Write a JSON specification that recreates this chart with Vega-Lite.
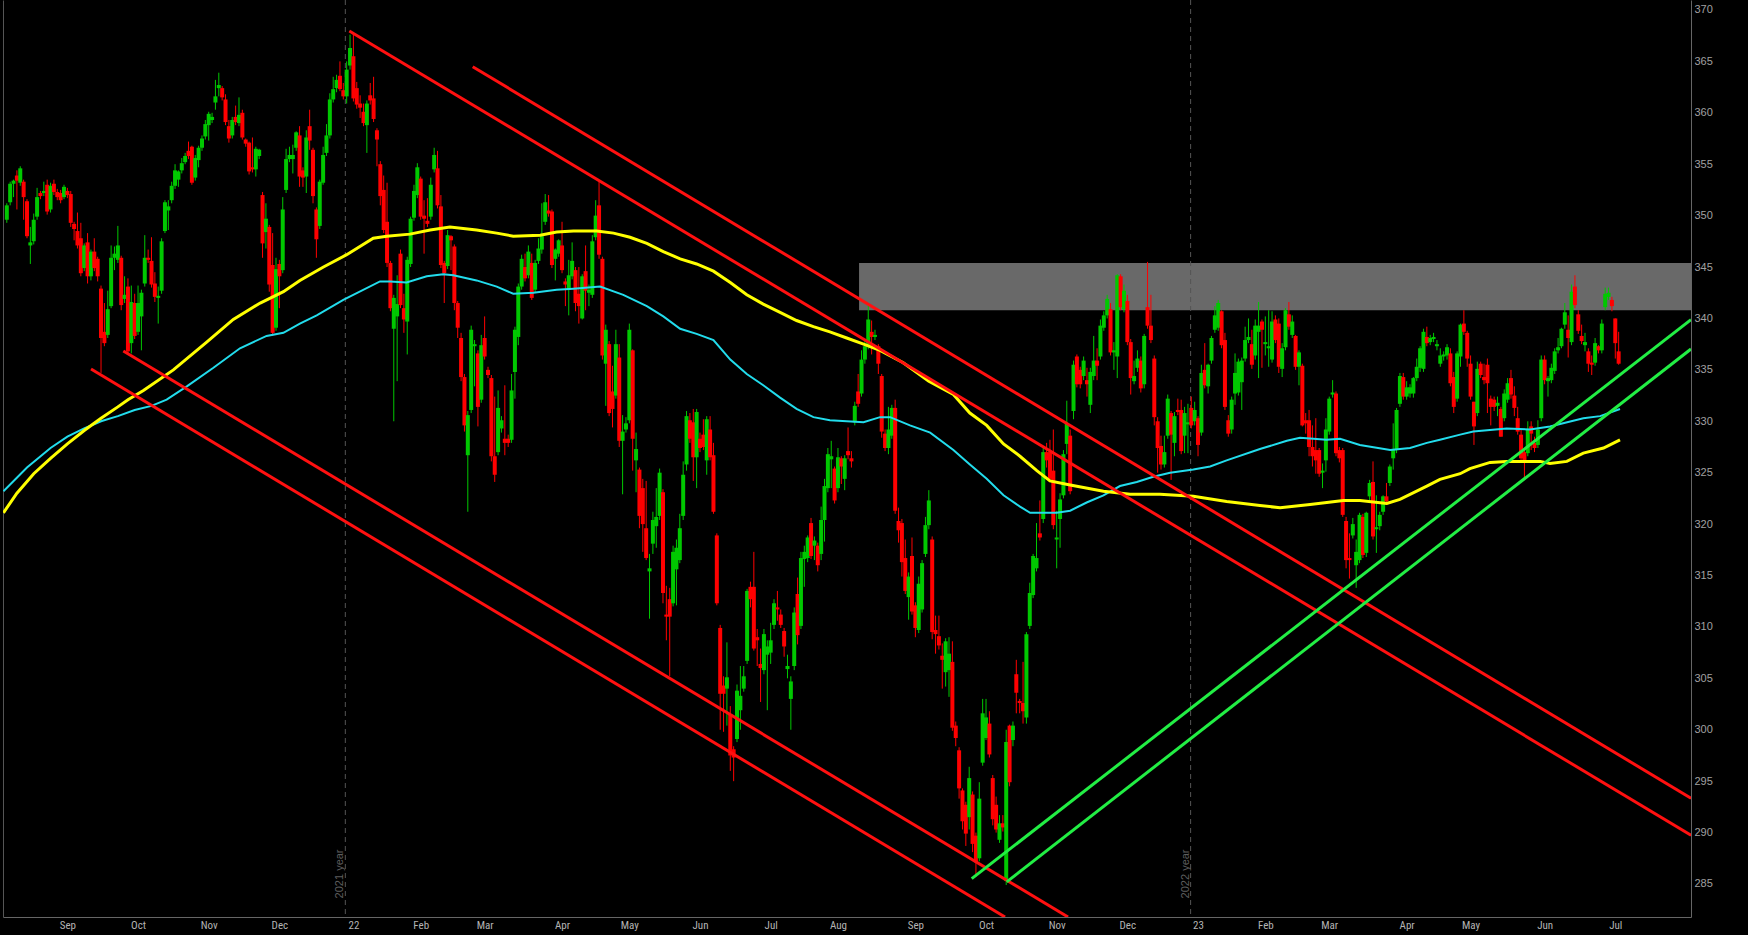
{
"$schema": "https://vega.github.io/schema/vega-lite/v6.json",
"width": 1688, "height": 917,
"autosize": {"type": "none"},
"padding": {"left": 3, "top": 0, "right": 57, "bottom": 18},
"background": "#000000",
"config": {"view": {"stroke": null}, "axis": {"grid": false}, "scale": {"continuousPadding": 0}},
"datasets": {
"candles": [
{"i":-18,"o":349.6,"h":351.2,"l":349.3,"c":351.0},{"i":-17,"o":351.3,"h":353.3,"l":351.0,"c":353.1},{"i":-16,"o":353.1,"h":353.5,"l":351.8,"c":353.4},{"i":-15,"o":353.9,"h":354.4,"l":350.6,"c":353.4},{"i":-14,"o":353.2,"h":354.8,"l":352.9,"c":354.6},{"i":-13,"o":353.3,"h":353.5,"l":349.6,"c":351.8},{"i":-12,"o":351.4,"h":351.6,"l":347.8,"c":348.0},{"i":-11,"o":347.1,"h":348.9,"l":345.3,"c":347.4},{"i":-10,"o":347.5,"h":350.2,"l":347.2,"c":349.6},{"i":-9,"o":349.9,"h":352.7,"l":349.6,"c":351.8},
{"i":-8,"o":352.2,"h":352.4,"l":351.6,"c":351.9},{"i":-7,"o":352.2,"h":353.3,"l":351.9,"c":352.4},{"i":-6,"o":353.0,"h":353.5,"l":350.1,"c":350.4},{"i":-5,"o":350.6,"h":353.2,"l":350.3,"c":352.9},{"i":-4,"o":353.1,"h":353.5,"l":352.0,"c":352.3},{"i":-3,"o":352.3,"h":352.6,"l":351.5,"c":351.8},{"i":-2,"o":352.2,"h":352.5,"l":351.2,"c":351.5},{"i":-1,"o":351.8,"h":353.0,"l":351.6,"c":352.8},{"i":0,"o":352.4,"h":352.7,"l":351.7,"c":352.0},{"i":1,"o":352.1,"h":352.4,"l":348.9,"c":349.3},
{"i":2,"o":349.2,"h":349.4,"l":347.6,"c":348.7},{"i":3,"o":348.5,"h":350.3,"l":346.8,"c":347.1},{"i":4,"o":347.8,"h":349.3,"l":344.1,"c":344.4},{"i":5,"o":344.9,"h":347.3,"l":344.6,"c":347.1},{"i":6,"o":347.4,"h":348.3,"l":343.4,"c":344.1},{"i":7,"o":344.1,"h":346.7,"l":343.7,"c":346.5},{"i":8,"o":346.5,"h":347.8,"l":344.6,"c":344.9},{"i":9,"o":345.8,"h":346.0,"l":343.6,"c":344.1},{"i":10,"o":342.9,"h":343.2,"l":334.7,"c":338.1},{"i":11,"o":338.7,"h":341.5,"l":337.3,"c":337.6},
{"i":12,"o":338.4,"h":342.7,"l":338.1,"c":340.9},{"i":13,"o":341.2,"h":347.1,"l":341.0,"c":345.9},{"i":14,"o":345.9,"h":347.0,"l":344.7,"c":346.3},{"i":15,"o":345.7,"h":349.0,"l":345.4,"c":347.1},{"i":16,"o":345.9,"h":346.1,"l":340.8,"c":341.3},{"i":17,"o":341.9,"h":344.1,"l":341.5,"c":342.3},{"i":18,"o":343.1,"h":343.9,"l":336.5,"c":336.8},{"i":19,"o":337.6,"h":343.2,"l":336.6,"c":341.6},{"i":20,"o":341.5,"h":342.4,"l":338.0,"c":338.3},{"i":21,"o":338.7,"h":343.2,"l":338.4,"c":341.5},
{"i":22,"o":340.2,"h":342.8,"l":336.9,"c":342.5},{"i":23,"o":343.4,"h":348.1,"l":343.1,"c":345.9},{"i":24,"o":345.9,"h":346.7,"l":345.4,"c":345.7},{"i":25,"o":345.6,"h":347.9,"l":343.0,"c":343.3},{"i":26,"o":343.4,"h":344.5,"l":341.6,"c":342.1},{"i":27,"o":342.0,"h":343.1,"l":339.5,"c":342.2},{"i":28,"o":342.7,"h":347.8,"l":342.4,"c":347.5},{"i":29,"o":348.5,"h":351.5,"l":348.3,"c":351.3},{"i":30,"o":350.5,"h":351.5,"l":348.6,"c":350.9},{"i":31,"o":351.5,"h":353.3,"l":351.2,"c":352.9},
{"i":32,"o":352.9,"h":355.0,"l":352.6,"c":354.4},{"i":33,"o":353.5,"h":354.4,"l":352.8,"c":354.3},{"i":34,"o":354.4,"h":355.6,"l":354.1,"c":355.1},{"i":35,"o":355.2,"h":356.1,"l":355.0,"c":355.8},{"i":36,"o":356.3,"h":357.2,"l":355.5,"c":355.8},{"i":37,"o":356.7,"h":356.8,"l":353.0,"c":353.2},{"i":38,"o":353.7,"h":355.9,"l":353.4,"c":355.6},{"i":39,"o":355.4,"h":356.8,"l":354.7,"c":356.6},{"i":40,"o":356.6,"h":357.8,"l":356.3,"c":357.5},{"i":41,"o":357.7,"h":359.3,"l":357.4,"c":358.9},
{"i":42,"o":358.8,"h":360.1,"l":357.3,"c":359.9},{"i":43,"o":359.3,"h":360.0,"l":359.0,"c":359.6},{"i":44,"o":361.0,"h":363.2,"l":360.3,"c":361.6},{"i":45,"o":362.4,"h":363.9,"l":361.6,"c":362.7},{"i":46,"o":362.4,"h":362.6,"l":361.2,"c":361.5},{"i":47,"o":361.3,"h":361.8,"l":358.8,"c":359.1},{"i":48,"o":358.7,"h":359.3,"l":357.1,"c":357.5},{"i":49,"o":357.8,"h":359.6,"l":357.5,"c":359.3},{"i":50,"o":359.6,"h":360.7,"l":358.8,"c":359.1},{"i":51,"o":359.0,"h":361.5,"l":358.7,"c":359.8},
{"i":52,"o":360.0,"h":360.3,"l":357.4,"c":357.6},{"i":53,"o":357.4,"h":357.5,"l":356.7,"c":357.0},{"i":54,"o":357.1,"h":357.2,"l":354.0,"c":354.3},{"i":55,"o":354.7,"h":357.6,"l":354.2,"c":354.5},{"i":56,"o":354.5,"h":356.7,"l":353.8,"c":356.5},{"i":57,"o":355.8,"h":356.5,"l":355.5,"c":356.4},{"i":58,"o":352.0,"h":352.3,"l":345.9,"c":347.3},{"i":59,"o":348.4,"h":351.2,"l":346.8,"c":349.7},{"i":60,"o":348.9,"h":349.1,"l":342.6,"c":343.3},{"i":61,"o":345.2,"h":348.3,"l":338.3,"c":338.6},
{"i":62,"o":339.1,"h":345.9,"l":338.8,"c":344.8},{"i":63,"o":345.3,"h":345.7,"l":341.0,"c":344.1},{"i":64,"o":344.7,"h":351.8,"l":344.4,"c":350.6},{"i":65,"o":352.5,"h":356.5,"l":352.2,"c":355.5},{"i":66,"o":355.5,"h":356.7,"l":355.2,"c":355.9},{"i":67,"o":355.5,"h":356.9,"l":354.1,"c":355.9},{"i":68,"o":356.6,"h":358.2,"l":356.3,"c":358.1},{"i":69,"o":357.8,"h":358.7,"l":352.8,"c":353.8},{"i":70,"o":354.4,"h":354.7,"l":352.8,"c":353.7},{"i":71,"o":353.8,"h":358.3,"l":352.2,"c":357.6},
{"i":72,"o":358.7,"h":360.3,"l":356.4,"c":357.3},{"i":73,"o":356.4,"h":356.6,"l":351.2,"c":351.9},{"i":74,"o":350.6,"h":350.8,"l":345.9,"c":347.7},{"i":75,"o":349.0,"h":353.5,"l":348.7,"c":353.3},{"i":76,"o":353.2,"h":356.7,"l":353.0,"c":355.9},{"i":77,"o":356.1,"h":358.9,"l":355.8,"c":357.8},{"i":78,"o":357.8,"h":361.9,"l":357.5,"c":361.3},{"i":79,"o":361.3,"h":363.5,"l":361.0,"c":362.3},{"i":80,"o":362.4,"h":363.7,"l":362.0,"c":363.2},{"i":81,"o":363.6,"h":365.0,"l":362.1,"c":362.3},
{"i":82,"o":362.2,"h":362.9,"l":361.3,"c":361.6},{"i":83,"o":361.6,"h":365.0,"l":360.9,"c":364.2},{"i":84,"o":364.6,"h":367.6,"l":364.2,"c":366.3},{"i":85,"o":365.5,"h":367.7,"l":361.1,"c":361.4},{"i":86,"o":362.4,"h":363.0,"l":360.4,"c":360.8},{"i":87,"o":360.9,"h":361.7,"l":359.5,"c":360.5},{"i":88,"o":360.1,"h":360.9,"l":358.7,"c":359.0},{"i":89,"o":358.8,"h":361.2,"l":356.1,"c":360.9},{"i":90,"o":361.7,"h":362.9,"l":360.8,"c":361.2},{"i":91,"o":361.4,"h":363.5,"l":359.1,"c":359.4},
{"i":92,"o":358.3,"h":358.5,"l":354.8,"c":357.4},{"i":93,"o":355.0,"h":355.3,"l":351.0,"c":351.9},{"i":94,"o":352.5,"h":353.9,"l":348.3,"c":348.6},{"i":95,"o":349.4,"h":353.2,"l":345.0,"c":345.4},{"i":96,"o":345.4,"h":345.6,"l":340.7,"c":341.0},{"i":97,"o":339.0,"h":342.3,"l":330.0,"c":342.0},{"i":98,"o":340.2,"h":344.2,"l":333.9,"c":341.4},{"i":99,"o":346.3,"h":346.7,"l":341.0,"c":341.3},{"i":100,"o":341.0,"h":342.4,"l":338.6,"c":339.9},{"i":101,"o":339.7,"h":346.0,"l":336.5,"c":345.7},
{"i":102,"o":345.3,"h":349.9,"l":345.0,"c":349.7},{"i":103,"o":349.8,"h":353.0,"l":349.5,"c":352.4},{"i":104,"o":352.0,"h":355.1,"l":351.7,"c":354.7},{"i":105,"o":353.6,"h":353.8,"l":349.6,"c":349.9},{"i":106,"o":350.0,"h":351.5,"l":346.3,"c":349.7},{"i":107,"o":349.5,"h":351.7,"l":348.9,"c":349.2},{"i":108,"o":349.9,"h":353.7,"l":349.6,"c":353.0},{"i":109,"o":354.5,"h":356.6,"l":354.2,"c":355.9},{"i":110,"o":354.6,"h":356.3,"l":350.7,"c":351.0},{"i":111,"o":350.9,"h":352.0,"l":344.9,"c":345.2},
{"i":112,"o":345.4,"h":345.6,"l":341.5,"c":344.4},{"i":113,"o":345.1,"h":348.6,"l":344.8,"c":348.1},{"i":114,"o":348.0,"h":348.1,"l":344.7,"c":347.6},{"i":115,"o":347.0,"h":347.2,"l":340.8,"c":341.5},{"i":116,"o":341.5,"h":341.7,"l":338.1,"c":339.1},{"i":117,"o":338.1,"h":338.6,"l":333.9,"c":334.3},{"i":118,"o":334.3,"h":334.6,"l":329.0,"c":329.6},{"i":119,"o":326.7,"h":331.0,"l":321.2,"c":330.6},{"i":120,"o":331.1,"h":339.3,"l":330.8,"c":338.9},{"i":121,"o":337.3,"h":337.9,"l":333.4,"c":337.5},
{"i":122,"o":336.6,"h":336.9,"l":329.5,"c":331.4},{"i":123,"o":332.1,"h":338.4,"l":331.8,"c":337.4},{"i":124,"o":338.1,"h":340.2,"l":336.0,"c":336.3},{"i":125,"o":335.0,"h":335.3,"l":334.2,"c":334.5},{"i":126,"o":334.2,"h":334.5,"l":326.1,"c":326.6},{"i":127,"o":326.6,"h":332.4,"l":324.1,"c":324.8},{"i":128,"o":327.0,"h":333.0,"l":326.7,"c":331.3},{"i":129,"o":329.3,"h":330.5,"l":328.9,"c":330.1},{"i":130,"o":328.3,"h":333.5,"l":326.7,"c":327.9},{"i":131,"o":328.3,"h":328.7,"l":327.5,"c":327.9},
{"i":132,"o":328.2,"h":334.6,"l":327.9,"c":333.0},{"i":133,"o":334.8,"h":339.2,"l":332.2,"c":338.9},{"i":134,"o":338.2,"h":343.4,"l":337.4,"c":343.1},{"i":135,"o":343.1,"h":346.2,"l":342.8,"c":345.8},{"i":136,"o":345.0,"h":346.3,"l":343.6,"c":343.9},{"i":137,"o":344.2,"h":347.1,"l":343.9,"c":346.5},{"i":138,"o":345.4,"h":346.3,"l":341.8,"c":342.0},{"i":139,"o":342.8,"h":345.7,"l":342.5,"c":345.4},{"i":140,"o":345.6,"h":347.8,"l":345.3,"c":346.8},{"i":141,"o":346.7,"h":351.2,"l":346.3,"c":348.0},
{"i":142,"o":349.4,"h":352.1,"l":349.1,"c":351.3},{"i":143,"o":350.5,"h":352.0,"l":349.9,"c":350.2},{"i":144,"o":350.4,"h":350.6,"l":344.9,"c":345.2},{"i":145,"o":345.8,"h":346.8,"l":343.7,"c":346.7},{"i":146,"o":346.3,"h":347.7,"l":346.0,"c":347.6},{"i":147,"o":347.1,"h":349.4,"l":344.4,"c":344.7},{"i":148,"o":343.6,"h":343.9,"l":341.2,"c":343.3},{"i":149,"o":342.8,"h":345.7,"l":340.3,"c":344.2},{"i":150,"o":344.1,"h":347.4,"l":343.8,"c":345.6},{"i":151,"o":344.7,"h":345.0,"l":340.7,"c":341.5},
{"i":152,"o":342.4,"h":345.0,"l":339.5,"c":341.2},{"i":153,"o":340.0,"h":344.3,"l":339.9,"c":344.1},{"i":154,"o":344.6,"h":347.1,"l":340.8,"c":342.7},{"i":155,"o":342.5,"h":343.3,"l":341.2,"c":342.8},{"i":156,"o":342.3,"h":348.1,"l":342.0,"c":347.5},{"i":157,"o":347.9,"h":351.5,"l":347.6,"c":350.0},{"i":158,"o":351.0,"h":353.3,"l":345.8,"c":346.2},{"i":159,"o":345.8,"h":346.0,"l":336.0,"c":336.4},{"i":160,"o":335.6,"h":339.4,"l":331.5,"c":338.9},{"i":161,"o":337.5,"h":337.8,"l":330.5,"c":330.8},
{"i":162,"o":332.9,"h":335.4,"l":329.4,"c":331.2},{"i":163,"o":332.5,"h":338.9,"l":332.2,"c":337.5},{"i":164,"o":336.2,"h":337.5,"l":327.5,"c":328.1},{"i":165,"o":328.1,"h":330.6,"l":322.9,"c":329.0},{"i":166,"o":329.2,"h":330.4,"l":328.9,"c":329.8},{"i":167,"o":330.1,"h":339.5,"l":329.8,"c":338.9},{"i":168,"o":336.9,"h":337.0,"l":325.2,"c":328.3},{"i":169,"o":326.2,"h":328.9,"l":323.1,"c":327.3},{"i":170,"o":325.3,"h":325.5,"l":319.6,"c":320.8},{"i":171,"o":323.5,"h":324.4,"l":317.3,"c":320.0},
{"i":172,"o":319.6,"h":324.2,"l":316.5,"c":316.7},{"i":173,"o":315.4,"h":317.1,"l":310.8,"c":315.7},{"i":174,"o":318.1,"h":321.2,"l":317.1,"c":320.4},{"i":175,"o":319.8,"h":323.5,"l":317.7,"c":320.7},{"i":176,"o":320.8,"h":325.4,"l":320.4,"c":325.0},{"i":177,"o":323.1,"h":323.4,"l":312.3,"c":313.3},{"i":178,"o":311.2,"h":314.0,"l":308.7,"c":311.0},{"i":179,"o":312.7,"h":313.8,"l":305.2,"c":311.0},{"i":180,"o":312.3,"h":317.9,"l":312.0,"c":317.3},{"i":181,"o":315.6,"h":318.5,"l":312.1,"c":317.7},
{"i":182,"o":316.5,"h":321.0,"l":316.2,"c":319.6},{"i":183,"o":320.8,"h":326.1,"l":320.4,"c":324.8},{"i":184,"o":325.8,"h":331.0,"l":325.2,"c":330.5},{"i":185,"o":330.1,"h":330.8,"l":327.9,"c":328.3},{"i":186,"o":329.9,"h":331.2,"l":324.2,"c":326.5},{"i":187,"o":326.5,"h":331.2,"l":323.5,"c":330.9},{"i":188,"o":328.3,"h":328.9,"l":327.0,"c":327.4},{"i":189,"o":328.7,"h":330.2,"l":327.2,"c":327.5},{"i":190,"o":326.2,"h":330.5,"l":324.8,"c":330.2},{"i":191,"o":329.2,"h":330.5,"l":326.2,"c":326.5},
{"i":192,"o":326.7,"h":327.9,"l":321.0,"c":321.2},{"i":193,"o":318.9,"h":319.1,"l":312.1,"c":312.3},{"i":194,"o":309.9,"h":310.2,"l":300.0,"c":303.5},{"i":195,"o":304.3,"h":305.2,"l":299.8,"c":303.5},{"i":196,"o":304.0,"h":308.5,"l":300.4,"c":305.1},{"i":197,"o":301.5,"h":302.3,"l":296.0,"c":297.5},{"i":198,"o":298.1,"h":298.4,"l":295.0,"c":297.3},{"i":199,"o":299.1,"h":304.4,"l":298.8,"c":303.8},{"i":200,"o":301.9,"h":306.2,"l":300.0,"c":303.3},{"i":201,"o":304.0,"h":306.2,"l":303.7,"c":305.2},
{"i":202,"o":306.7,"h":313.7,"l":306.4,"c":313.5},{"i":203,"o":313.9,"h":314.4,"l":311.9,"c":312.7},{"i":204,"o":313.9,"h":317.3,"l":307.7,"c":307.9},{"i":205,"o":309.0,"h":309.8,"l":306.2,"c":308.7},{"i":206,"o":306.4,"h":307.9,"l":302.7,"c":306.0},{"i":207,"o":305.8,"h":309.8,"l":305.4,"c":309.3},{"i":208,"o":307.3,"h":308.7,"l":301.9,"c":308.1},{"i":209,"o":307.5,"h":310.4,"l":306.4,"c":308.7},{"i":210,"o":310.2,"h":312.7,"l":309.8,"c":312.3},{"i":211,"o":311.9,"h":313.5,"l":310.6,"c":311.7},
{"i":212,"o":311.2,"h":311.7,"l":309.9,"c":310.2},{"i":213,"o":309.6,"h":309.9,"l":307.1,"c":308.1},{"i":214,"o":305.9,"h":307.3,"l":305.0,"c":306.2},{"i":215,"o":303.0,"h":305.2,"l":300.0,"c":304.7},{"i":216,"o":306.2,"h":311.9,"l":305.8,"c":311.4},{"i":217,"o":313.2,"h":314.8,"l":308.3,"c":309.2},{"i":218,"o":310.1,"h":317.3,"l":309.8,"c":316.7},{"i":219,"o":316.6,"h":317.9,"l":313.9,"c":317.3},{"i":220,"o":316.7,"h":318.9,"l":316.3,"c":318.7},{"i":221,"o":320.1,"h":320.6,"l":316.6,"c":316.9},
{"i":222,"o":317.9,"h":318.8,"l":316.5,"c":318.4},{"i":223,"o":317.9,"h":318.2,"l":315.4,"c":316.0},{"i":224,"o":317.1,"h":321.7,"l":316.5,"c":320.4},{"i":225,"o":320.4,"h":324.4,"l":318.3,"c":323.7},{"i":226,"o":323.5,"h":327.4,"l":323.1,"c":326.8},{"i":227,"o":326.3,"h":328.1,"l":323.5,"c":326.6},{"i":228,"o":325.4,"h":325.6,"l":322.0,"c":322.3},{"i":229,"o":323.5,"h":327.4,"l":323.1,"c":326.5},{"i":230,"o":326.4,"h":326.6,"l":323.9,"c":325.6},{"i":231,"o":324.4,"h":326.7,"l":323.3,"c":326.4},
{"i":232,"o":327.1,"h":329.4,"l":326.3,"c":326.7},{"i":233,"o":326.4,"h":327.1,"l":325.5,"c":326.1},{"i":234,"o":329.9,"h":331.9,"l":329.6,"c":331.5},{"i":235,"o":332.9,"h":334.6,"l":331.4,"c":331.7},{"i":236,"o":332.7,"h":336.9,"l":332.4,"c":336.0},{"i":237,"o":336.0,"h":337.9,"l":335.6,"c":337.3},{"i":238,"o":337.3,"h":341.2,"l":337.0,"c":339.9},{"i":239,"o":338.7,"h":339.8,"l":336.5,"c":338.2},{"i":240,"o":338.2,"h":338.9,"l":337.9,"c":338.4},{"i":241,"o":337.3,"h":337.5,"l":334.6,"c":335.6},
{"i":242,"o":334.4,"h":334.6,"l":328.4,"c":329.0},{"i":243,"o":328.8,"h":329.2,"l":327.1,"c":327.4},{"i":244,"o":327.4,"h":331.4,"l":326.8,"c":329.2},{"i":245,"o":328.6,"h":331.6,"l":328.3,"c":331.3},{"i":246,"o":331.3,"h":332.1,"l":321.0,"c":321.3},{"i":247,"o":320.3,"h":321.6,"l":318.2,"c":319.4},{"i":248,"o":320.1,"h":320.5,"l":314.9,"c":316.3},{"i":249,"o":316.7,"h":318.5,"l":313.2,"c":313.5},{"i":250,"o":312.9,"h":315.3,"l":310.7,"c":314.9},{"i":251,"o":316.9,"h":318.7,"l":311.2,"c":311.5},
{"i":252,"o":312.1,"h":312.4,"l":309.0,"c":309.9},{"i":253,"o":309.7,"h":314.9,"l":309.4,"c":314.2},{"i":254,"o":311.7,"h":316.5,"l":311.4,"c":316.2},{"i":255,"o":317.1,"h":320.7,"l":316.8,"c":319.9},{"i":256,"o":319.9,"h":323.3,"l":319.5,"c":322.3},{"i":257,"o":318.5,"h":318.8,"l":308.8,"c":309.5},{"i":258,"o":309.7,"h":311.1,"l":307.4,"c":309.3},{"i":259,"o":309.1,"h":311.1,"l":307.8,"c":308.2},{"i":260,"o":307.2,"h":308.4,"l":304.0,"c":306.8},{"i":261,"o":305.6,"h":308.9,"l":304.2,"c":308.6},
{"i":262,"o":305.8,"h":309.0,"l":303.2,"c":307.4},{"i":263,"o":306.6,"h":308.6,"l":299.9,"c":300.2},{"i":264,"o":300.4,"h":300.8,"l":298.4,"c":299.2},{"i":265,"o":298.0,"h":298.3,"l":293.3,"c":294.3},{"i":266,"o":294.1,"h":294.3,"l":290.3,"c":291.1},{"i":267,"o":292.7,"h":293.0,"l":288.7,"c":289.9},{"i":268,"o":291.5,"h":296.4,"l":290.3,"c":295.3},{"i":269,"o":293.7,"h":294.0,"l":288.1,"c":288.9},{"i":270,"o":289.7,"h":290.0,"l":285.7,"c":287.1},{"i":271,"o":287.5,"h":294.9,"l":287.2,"c":293.3},
{"i":272,"o":296.8,"h":303.0,"l":296.5,"c":301.6},{"i":273,"o":299.2,"h":303.0,"l":299.0,"c":301.2},{"i":274,"o":300.6,"h":301.8,"l":297.3,"c":297.6},{"i":275,"o":295.3,"h":295.6,"l":290.7,"c":291.3},{"i":276,"o":292.7,"h":293.5,"l":290.0,"c":290.3},{"i":277,"o":289.3,"h":291.7,"l":289.0,"c":290.9},{"i":278,"o":290.9,"h":291.7,"l":290.1,"c":290.5},{"i":279,"o":285.3,"h":300.0,"l":284.9,"c":298.8},{"i":280,"o":300.4,"h":300.5,"l":294.5,"c":294.9},{"i":281,"o":299.0,"h":300.8,"l":298.4,"c":300.4},
{"i":282,"o":305.4,"h":306.8,"l":301.6,"c":303.6},{"i":283,"o":302.8,"h":303.0,"l":301.6,"c":302.6},{"i":284,"o":302.6,"h":306.6,"l":300.6,"c":301.8},{"i":285,"o":301.2,"h":309.5,"l":300.6,"c":309.3},{"i":286,"o":310.1,"h":314.3,"l":309.8,"c":313.3},{"i":287,"o":313.1,"h":317.1,"l":312.8,"c":316.9},{"i":288,"o":315.7,"h":320.1,"l":315.4,"c":316.7},{"i":289,"o":319.1,"h":322.3,"l":318.4,"c":318.7},{"i":290,"o":320.5,"h":327.6,"l":320.1,"c":327.0},{"i":291,"o":327.0,"h":327.9,"l":325.5,"c":326.2},
{"i":292,"o":327.0,"h":328.2,"l":324.1,"c":324.4},{"i":293,"o":325.2,"h":329.2,"l":319.5,"c":319.9},{"i":294,"o":318.5,"h":321.3,"l":315.7,"c":318.7},{"i":295,"o":320.5,"h":323.0,"l":317.7,"c":322.4},{"i":296,"o":322.8,"h":327.2,"l":322.5,"c":326.8},{"i":297,"o":327.8,"h":332.0,"l":326.8,"c":329.8},{"i":298,"o":328.6,"h":329.2,"l":322.9,"c":323.2},{"i":299,"o":331.0,"h":335.9,"l":330.2,"c":335.5},{"i":300,"o":336.3,"h":336.5,"l":333.3,"c":333.6},{"i":301,"o":335.0,"h":335.3,"l":333.2,"c":333.6},
{"i":302,"o":334.4,"h":336.3,"l":334.0,"c":335.9},{"i":303,"o":334.0,"h":335.2,"l":332.4,"c":333.6},{"i":304,"o":331.6,"h":335.2,"l":330.8,"c":334.8},{"i":305,"o":334.4,"h":338.3,"l":334.0,"c":335.9},{"i":306,"o":335.9,"h":337.1,"l":334.0,"c":335.4},{"i":307,"o":336.3,"h":339.9,"l":336.0,"c":339.3},{"i":308,"o":339.1,"h":340.7,"l":338.8,"c":340.3},{"i":309,"o":340.3,"h":342.3,"l":340.0,"c":341.9},{"i":310,"o":340.9,"h":341.5,"l":336.4,"c":336.7},{"i":311,"o":336.7,"h":337.7,"l":335.0,"c":336.9},
{"i":312,"o":336.3,"h":344.3,"l":334.2,"c":344.2},{"i":313,"o":344.1,"h":344.3,"l":340.8,"c":341.1},{"i":314,"o":340.9,"h":343.3,"l":340.6,"c":342.7},{"i":315,"o":341.7,"h":342.3,"l":337.4,"c":337.7},{"i":316,"o":337.7,"h":338.0,"l":332.6,"c":334.2},{"i":317,"o":333.9,"h":335.9,"l":333.6,"c":334.4},{"i":318,"o":335.2,"h":336.9,"l":334.8,"c":336.1},{"i":319,"o":335.9,"h":336.3,"l":332.8,"c":333.2},{"i":320,"o":333.6,"h":338.5,"l":333.2,"c":338.3},{"i":321,"o":341.1,"h":345.5,"l":339.0,"c":339.3},
{"i":322,"o":339.3,"h":342.3,"l":337.6,"c":337.9},{"i":323,"o":336.1,"h":336.4,"l":329.6,"c":330.4},{"i":324,"o":330.0,"h":330.4,"l":325.0,"c":327.4},{"i":325,"o":327.6,"h":328.6,"l":325.3,"c":325.8},{"i":326,"o":325.8,"h":328.6,"l":325.5,"c":327.0},{"i":327,"o":328.6,"h":332.6,"l":328.3,"c":332.2},{"i":328,"o":330.8,"h":331.0,"l":324.3,"c":328.7},{"i":329,"o":327.9,"h":330.9,"l":326.6,"c":330.5},{"i":330,"o":331.1,"h":332.2,"l":330.6,"c":330.9},{"i":331,"o":331.1,"h":332.1,"l":326.8,"c":327.1},
{"i":332,"o":328.6,"h":331.4,"l":326.9,"c":330.8},{"i":333,"o":329.7,"h":331.7,"l":326.9,"c":329.9},{"i":334,"o":331.3,"h":332.4,"l":329.3,"c":329.6},{"i":335,"o":330.0,"h":331.9,"l":329.6,"c":331.1},{"i":336,"o":330.3,"h":330.5,"l":326.6,"c":327.7},{"i":337,"o":328.9,"h":335.5,"l":328.6,"c":334.7},{"i":338,"o":335.0,"h":337.6,"l":333.2,"c":333.5},{"i":339,"o":333.4,"h":335.6,"l":332.7,"c":335.5},{"i":340,"o":335.9,"h":338.3,"l":335.6,"c":338.1},{"i":341,"o":338.9,"h":341.2,"l":338.6,"c":340.3},
{"i":342,"o":339.1,"h":341.8,"l":338.8,"c":341.5},{"i":343,"o":340.7,"h":340.8,"l":337.1,"c":337.4},{"i":344,"o":337.9,"h":338.6,"l":331.1,"c":331.4},{"i":345,"o":330.1,"h":330.6,"l":328.5,"c":328.8},{"i":346,"o":329.2,"h":332.4,"l":328.8,"c":332.1},{"i":347,"o":332.7,"h":336.6,"l":331.6,"c":334.7},{"i":348,"o":332.8,"h":336.1,"l":332.5,"c":335.8},{"i":349,"o":333.8,"h":336.2,"l":331.1,"c":335.9},{"i":350,"o":336.1,"h":339.2,"l":335.8,"c":337.9},{"i":351,"o":337.9,"h":340.0,"l":337.6,"c":338.2},
{"i":352,"o":337.5,"h":338.9,"l":335.1,"c":335.5},{"i":353,"o":336.4,"h":339.9,"l":336.0,"c":339.3},{"i":354,"o":338.7,"h":341.6,"l":334.2,"c":339.3},{"i":355,"o":339.7,"h":339.9,"l":335.2,"c":338.9},{"i":356,"o":337.5,"h":340.2,"l":336.4,"c":337.7},{"i":357,"o":337.1,"h":340.8,"l":335.3,"c":337.3},{"i":358,"o":336.0,"h":340.7,"l":335.7,"c":339.7},{"i":359,"o":339.9,"h":340.3,"l":337.6,"c":337.9},{"i":360,"o":339.5,"h":340.0,"l":334.7,"c":335.3},{"i":361,"o":335.1,"h":337.6,"l":334.3,"c":337.1},
{"i":362,"o":337.2,"h":341.0,"l":336.9,"c":340.8},{"i":363,"o":340.4,"h":341.6,"l":338.9,"c":339.2},{"i":364,"o":338.4,"h":340.3,"l":338.1,"c":339.7},{"i":365,"o":338.3,"h":338.4,"l":335.0,"c":335.3},{"i":366,"o":335.3,"h":336.9,"l":333.5,"c":336.7},{"i":367,"o":335.4,"h":335.6,"l":329.5,"c":329.6},{"i":368,"o":330.1,"h":330.8,"l":328.8,"c":329.8},{"i":369,"o":330.1,"h":331.1,"l":326.6,"c":327.5},{"i":370,"o":327.5,"h":329.6,"l":325.6,"c":326.6},{"i":371,"o":327.2,"h":330.3,"l":324.9,"c":326.2},
{"i":372,"o":327.2,"h":327.4,"l":324.6,"c":324.9},{"i":373,"o":325.0,"h":325.9,"l":323.5,"c":325.2},{"i":374,"o":326.2,"h":330.3,"l":325.1,"c":329.2},{"i":375,"o":329.0,"h":332.4,"l":328.7,"c":332.2},{"i":376,"o":332.6,"h":334.0,"l":332.3,"c":332.8},{"i":377,"o":332.7,"h":332.9,"l":326.6,"c":326.9},{"i":378,"o":327.2,"h":327.5,"l":326.0,"c":326.4},{"i":379,"o":327.2,"h":327.4,"l":320.7,"c":320.9},{"i":380,"o":320.3,"h":320.7,"l":315.7,"c":316.5},{"i":381,"o":316.7,"h":319.1,"l":314.7,"c":316.5},
{"i":382,"o":318.9,"h":320.6,"l":318.6,"c":320.0},{"i":383,"o":316.0,"h":318.5,"l":313.8,"c":317.3},{"i":384,"o":316.5,"h":321.1,"l":316.2,"c":320.9},{"i":385,"o":320.7,"h":321.0,"l":316.7,"c":317.0},{"i":386,"o":317.2,"h":321.2,"l":316.8,"c":321.1},{"i":387,"o":322.7,"h":324.3,"l":322.3,"c":324.0},{"i":388,"o":324.1,"h":326.1,"l":318.5,"c":318.8},{"i":389,"o":319.5,"h":322.8,"l":317.2,"c":319.7},{"i":390,"o":319.8,"h":321.2,"l":319.4,"c":320.9},{"i":391,"o":321.2,"h":322.8,"l":320.9,"c":322.7},
{"i":392,"o":322.7,"h":324.0,"l":321.9,"c":322.2},{"i":393,"o":324.0,"h":325.8,"l":323.7,"c":325.6},{"i":394,"o":326.4,"h":329.8,"l":325.3,"c":327.2},{"i":395,"o":327.2,"h":331.3,"l":326.9,"c":331.1},{"i":396,"o":331.7,"h":334.7,"l":331.4,"c":334.4},{"i":397,"o":334.3,"h":334.7,"l":332.1,"c":332.4},{"i":398,"o":332.4,"h":333.9,"l":332.1,"c":333.3},{"i":399,"o":332.7,"h":333.6,"l":332.3,"c":333.3},{"i":400,"o":332.7,"h":334.3,"l":332.3,"c":334.2},{"i":401,"o":334.2,"h":336.1,"l":333.9,"c":335.3},
{"i":402,"o":335.2,"h":337.3,"l":334.8,"c":337.1},{"i":403,"o":335.1,"h":339.0,"l":334.8,"c":338.7},{"i":404,"o":338.2,"h":339.2,"l":337.3,"c":337.6},{"i":405,"o":337.7,"h":338.4,"l":337.4,"c":338.1},{"i":406,"o":338.0,"h":338.6,"l":337.7,"c":338.2},{"i":407,"o":337.3,"h":337.9,"l":336.9,"c":337.5},{"i":408,"o":335.6,"h":337.1,"l":335.3,"c":336.4},{"i":409,"o":336.3,"h":336.8,"l":335.9,"c":336.5},{"i":410,"o":336.4,"h":337.5,"l":336.0,"c":337.2},{"i":411,"o":336.6,"h":337.1,"l":333.4,"c":333.7},
{"i":412,"o":334.3,"h":334.8,"l":330.8,"c":331.4},{"i":413,"o":332.2,"h":336.8,"l":331.9,"c":336.6},{"i":414,"o":336.3,"h":339.5,"l":335.3,"c":339.4},{"i":415,"o":339.5,"h":340.8,"l":338.4,"c":338.7},{"i":416,"o":338.6,"h":338.8,"l":335.3,"c":336.1},{"i":417,"o":335.6,"h":336.4,"l":332.1,"c":332.4},{"i":418,"o":331.9,"h":331.9,"l":327.7,"c":329.5},{"i":419,"o":330.8,"h":335.8,"l":330.5,"c":335.1},{"i":420,"o":335.6,"h":335.8,"l":334.2,"c":334.5},{"i":421,"o":334.3,"h":335.6,"l":333.6,"c":334.0},
{"i":422,"o":335.5,"h":336.1,"l":330.8,"c":333.7},{"i":423,"o":332.2,"h":332.5,"l":329.6,"c":331.4},{"i":424,"o":332.1,"h":332.4,"l":331.0,"c":331.4},{"i":425,"o":331.5,"h":332.4,"l":330.5,"c":331.8},{"i":426,"o":331.2,"h":331.4,"l":328.5,"c":328.5},{"i":427,"o":330.3,"h":333.1,"l":330.0,"c":332.7},{"i":428,"o":332.1,"h":334.2,"l":331.8,"c":333.7},{"i":429,"o":334.2,"h":335.0,"l":332.2,"c":332.6},{"i":430,"o":332.5,"h":333.4,"l":330.5,"c":331.3},{"i":431,"o":330.3,"h":331.4,"l":328.7,"c":329.0},
{"i":432,"o":328.7,"h":329.2,"l":326.1,"c":326.4},{"i":433,"o":327.0,"h":327.2,"l":324.3,"c":326.2},{"i":434,"o":326.9,"h":330.0,"l":326.6,"c":329.2},{"i":435,"o":329.5,"h":330.0,"l":327.2,"c":328.8},{"i":436,"o":327.9,"h":328.5,"l":327.0,"c":327.4},{"i":437,"o":327.7,"h":330.1,"l":327.4,"c":329.2},{"i":438,"o":330.3,"h":336.4,"l":330.0,"c":336.0},{"i":439,"o":336.0,"h":336.4,"l":333.6,"c":334.0},{"i":440,"o":333.9,"h":334.4,"l":332.4,"c":334.2},{"i":441,"o":334.0,"h":335.6,"l":333.7,"c":335.2},
{"i":442,"o":334.9,"h":337.1,"l":334.6,"c":336.8},{"i":443,"o":336.9,"h":338.1,"l":336.6,"c":337.2},{"i":444,"o":337.3,"h":339.1,"l":337.1,"c":339.0},{"i":445,"o":339.4,"h":341.5,"l":339.0,"c":340.6},{"i":446,"o":338.9,"h":340.3,"l":336.2,"c":338.1},{"i":447,"o":337.7,"h":343.3,"l":337.4,"c":342.6},{"i":448,"o":343.1,"h":344.2,"l":341.0,"c":341.3},{"i":449,"o":340.4,"h":340.8,"l":338.5,"c":338.8},{"i":450,"o":338.3,"h":339.4,"l":337.5,"c":337.8},{"i":451,"o":337.4,"h":338.6,"l":336.8,"c":337.7},
{"i":452,"o":336.8,"h":337.1,"l":334.8,"c":335.6},{"i":453,"o":335.7,"h":336.4,"l":334.5,"c":335.5},{"i":454,"o":335.7,"h":338.1,"l":335.4,"c":337.6},{"i":455,"o":337.3,"h":337.4,"l":336.6,"c":336.9},{"i":456,"o":336.9,"h":339.9,"l":336.6,"c":339.5},{"i":457,"o":341.1,"h":343.0,"l":340.8,"c":342.4},{"i":458,"o":342.1,"h":343.0,"l":341.8,"c":342.5},{"i":459,"o":341.8,"h":342.1,"l":340.7,"c":341.2},{"i":460,"o":340.0,"h":340.0,"l":336.1,"c":337.6},{"i":461,"o":336.8,"h":338.7,"l":335.5,"c":335.6}
],
"ma": [
{"ma":"fast","i":-19,"v":321.1},{"ma":"fast","i":-15,"v":323.0},{"ma":"fast","i":-10,"v":324.9},{"ma":"fast","i":-5,"v":326.4},{"ma":"fast","i":0,"v":327.8},{"ma":"fast","i":5,"v":329.1},{"ma":"fast","i":10,"v":330.3},{"ma":"fast","i":15,"v":331.4},{"ma":"fast","i":18,"v":332.1},{"ma":"fast","i":22.6,"v":333.0},{"ma":"fast","i":31.5,"v":335.0},{"ma":"fast","i":41.4,"v":337.7},{"ma":"fast","i":49.3,"v":339.9},{"ma":"fast","i":57.3,"v":341.5},{"ma":"fast","i":64.2,"v":342.6},{"ma":"fast","i":69.1,"v":343.7},{"ma":"fast","i":76.1,"v":345.0},{"ma":"fast","i":83.0,"v":346.2},{"ma":"fast","i":90.9,"v":347.8},{"ma":"fast","i":94.9,"v":348.0},{"ma":"fast","i":101.8,"v":348.2},{"ma":"fast","i":107.8,"v":348.6},{"ma":"fast","i":113.7,"v":348.9},{"ma":"fast","i":121.6,"v":348.6},{"ma":"fast","i":127.6,"v":348.3},{"ma":"fast","i":132.5,"v":348.0},{"ma":"fast","i":140.5,"v":348.1},{"ma":"fast","i":145.4,"v":348.4},{"ma":"fast","i":150.4,"v":348.5},{"ma":"fast","i":157.3,"v":348.5},{"ma":"fast","i":162.3,"v":348.3},{"ma":"fast","i":167.2,"v":347.9},{"ma":"fast","i":172.2,"v":347.3},{"ma":"fast","i":177.1,"v":346.5},{"ma":"fast","i":182.1,"v":345.8},{"ma":"fast","i":187.0,"v":345.3},{"ma":"fast","i":192.0,"v":344.6},{"ma":"fast","i":197.0,"v":343.5},{"ma":"fast","i":201.9,"v":342.3},{"ma":"fast","i":206.8,"v":341.4},{"ma":"fast","i":211.8,"v":340.6},{"ma":"fast","i":216.7,"v":339.8},{"ma":"fast","i":221.7,"v":339.2},{"ma":"fast","i":226.6,"v":338.7},{"ma":"fast","i":231.6,"v":338.1},{"ma":"fast","i":236.6,"v":337.5},{"ma":"fast","i":241.5,"v":336.9},{"ma":"fast","i":248.4,"v":335.7},{"ma":"fast","i":256,"v":333.9},{"ma":"fast","i":263.3,"v":332.6},{"ma":"fast","i":268.2,"v":330.8},{"ma":"fast","i":273.2,"v":329.6},{"ma":"fast","i":278.2,"v":327.8},{"ma":"fast","i":283.1,"v":326.6},{"ma":"fast","i":288.1,"v":325.2},{"ma":"fast","i":292.0,"v":324.2},{"ma":"fast","i":298.0,"v":323.8},{"ma":"fast","i":307.9,"v":323.2},{"ma":"fast","i":315.8,"v":322.9},{"ma":"fast","i":324.7,"v":322.9},{"ma":"fast","i":334.6,"v":322.7},{"ma":"fast","i":344.5,"v":322.2},{"ma":"fast","i":354.4,"v":321.8},{"ma":"fast","i":360.4,"v":321.6},{"ma":"fast","i":369.3,"v":321.9},{"ma":"fast","i":379.2,"v":322.3},{"ma":"fast","i":384.1,"v":322.3},{"ma":"fast","i":392.1,"v":322.0},{"ma":"fast","i":396.0,"v":322.4},{"ma":"fast","i":404.0,"v":323.7},{"ma":"fast","i":407.9,"v":324.35},{"ma":"fast","i":413.9,"v":324.9},{"ma":"fast","i":416.8,"v":325.4},{"ma":"fast","i":422.8,"v":326.0},{"ma":"fast","i":427.7,"v":326.1},{"ma":"fast","i":437.7,"v":326.1},{"ma":"fast","i":440.6,"v":325.9},{"ma":"fast","i":445.6,"v":326.1},{"ma":"fast","i":450.5,"v":326.9},{"ma":"fast","i":456.5,"v":327.4},{"ma":"fast","i":461.4,"v":328.2},
{"ma":"slow","i":-19,"v":323.2},{"ma":"slow","i":-12,"v":325.5},{"ma":"slow","i":-5,"v":327.4},{"ma":"slow","i":0,"v":328.5},{"ma":"slow","i":5,"v":329.3},{"ma":"slow","i":10,"v":330.0},{"ma":"slow","i":15,"v":330.5},{"ma":"slow","i":20,"v":331.1},{"ma":"slow","i":25,"v":331.5},{"ma":"slow","i":29.5,"v":332.1},{"ma":"slow","i":35.5,"v":333.4},{"ma":"slow","i":43.4,"v":335.2},{"ma":"slow","i":51.3,"v":337.1},{"ma":"slow","i":59.2,"v":338.3},{"ma":"slow","i":64.2,"v":338.6},{"ma":"slow","i":69.1,"v":339.5},{"ma":"slow","i":74.1,"v":340.3},{"ma":"slow","i":82.0,"v":341.8},{"ma":"slow","i":92.9,"v":343.6},{"ma":"slow","i":95.9,"v":343.6},{"ma":"slow","i":100.8,"v":343.5},{"ma":"slow","i":106.8,"v":344.1},{"ma":"slow","i":111.7,"v":344.3},{"ma":"slow","i":114.7,"v":344.2},{"ma":"slow","i":121.6,"v":343.7},{"ma":"slow","i":127.6,"v":343.1},{"ma":"slow","i":132.5,"v":342.4},{"ma":"slow","i":138.5,"v":342.5},{"ma":"slow","i":145.4,"v":342.8},{"ma":"slow","i":150.4,"v":342.9},{"ma":"slow","i":158.3,"v":343.1},{"ma":"slow","i":165.2,"v":342.3},{"ma":"slow","i":172.2,"v":341.2},{"ma":"slow","i":177.1,"v":340.2},{"ma":"slow","i":182.1,"v":339.0},{"ma":"slow","i":187.0,"v":338.5},{"ma":"slow","i":192.0,"v":337.9},{"ma":"slow","i":197.0,"v":336.0},{"ma":"slow","i":201.9,"v":334.6},{"ma":"slow","i":206.8,"v":333.5},{"ma":"slow","i":211.8,"v":332.3},{"ma":"slow","i":216.7,"v":331.2},{"ma":"slow","i":221.7,"v":330.4},{"ma":"slow","i":226.6,"v":330.1},{"ma":"slow","i":231.6,"v":330.0},{"ma":"slow","i":236.6,"v":329.9},{"ma":"slow","i":241.5,"v":330.4},{"ma":"slow","i":244.5,"v":330.4},{"ma":"slow","i":250.4,"v":329.6},{"ma":"slow","i":256.4,"v":328.9},{"ma":"slow","i":263.3,"v":327.2},{"ma":"slow","i":268.2,"v":325.8},{"ma":"slow","i":273.2,"v":324.4},{"ma":"slow","i":278.2,"v":322.8},{"ma":"slow","i":283.1,"v":321.7},{"ma":"slow","i":286.1,"v":321.1},{"ma":"slow","i":294.0,"v":321.1},{"ma":"slow","i":298.0,"v":321.3},{"ma":"slow","i":302.9,"v":322.1},{"ma":"slow","i":307.9,"v":322.8},{"ma":"slow","i":312.8,"v":323.7},{"ma":"slow","i":317.8,"v":324.1},{"ma":"slow","i":322.7,"v":324.6},{"ma":"slow","i":327.7,"v":325.0},{"ma":"slow","i":334.6,"v":325.3},{"ma":"slow","i":339.6,"v":325.6},{"ma":"slow","i":344.5,"v":326.2},{"ma":"slow","i":354.4,"v":327.3},{"ma":"slow","i":362.4,"v":328.1},{"ma":"slow","i":366.3,"v":328.4},{"ma":"slow","i":374.2,"v":328.2},{"ma":"slow","i":378.2,"v":328.3},{"ma":"slow","i":384.1,"v":327.7},{"ma":"slow","i":393.1,"v":327.2},{"ma":"slow","i":399.0,"v":327.4},{"ma":"slow","i":404.0,"v":327.9},{"ma":"slow","i":407.9,"v":328.2},{"ma":"slow","i":413.9,"v":328.7},{"ma":"slow","i":417.8,"v":329.0},{"ma":"slow","i":427.7,"v":329.3},{"ma":"slow","i":434.7,"v":329.2},{"ma":"slow","i":440.6,"v":329.5},{"ma":"slow","i":450.5,"v":330.3},{"ma":"slow","i":455.5,"v":330.5},{"ma":"slow","i":461.4,"v":331.2}
],
"trend": [
{"line":"R1","i":83.79,"v":367.96},{"line":"R1","i":482.5,"v":289.74},
{"line":"R2","i":120.46,"v":364.48},{"line":"R2","i":482.5,"v":293.34},
{"line":"L1","i":7.03,"v":335.08},{"line":"L1","i":278.65,"v":281.79},
{"line":"L2","i":16.63,"v":336.83},{"line":"L2","i":297.37,"v":281.79},
{"line":"G1","i":268.75,"v":285.52},{"line":"G1","i":482.5,"v":339.89},
{"line":"G2","i":279.15,"v":285.21},{"line":"G2","i":482.5,"v":337.03}
],
"zone": [{"i1":235.27,"i2":482.5,"lo":340.8,"hi":345.4}],
"years": [{"i":82.6,"v":283.6,"label":"2021 year"},{"i":333.8,"v":283.6,"label":"2022 year"}]
},
"resolve": {"axis": {"y": "independent"}},
"layer": [
{
"data": {"name": "zone"},
"mark": {"type": "rect", "color": "#696969"},
"encoding": {
"x": {"field": "i1", "type": "quantitative", "scale": {"domain": [-19.13, 482.5], "nice": false, "zero": false, "padding": 0},
"axis": {"orient": "bottom", "title": null, "values": [0,21,42,63,85,105,124,147,167,188,209,229,252,273,294,315,336,356,375,398,417,439,460],
"labelExpr": "['Sep','Oct','Nov','Dec','22','Feb','Mar','Apr','May','Jun','Jul','Aug','Sep','Oct','Nov','Dec','23','Feb','Mar','Apr','May','Jun','Jul'][indexof([0,21,42,63,85,105,124,147,167,188,209,229,252,273,294,315,336,356,375,398,417,439,460], datum.value)]",
"ticks": false, "grid": false, "domainColor": "#666666", "labelColor": "#b4b4b4", "labelFontSize": 11, "labelFont": "Liberation Sans Narrow, Roboto Condensed, Liberation Sans, sans-serif", "labelPadding": 2, "labelFlush": false, "labelOverlap": false}},
"x2": {"field": "i2"},
"y": {"field": "lo", "type": "quantitative", "scale": {"domain": [281.79, 370.97], "nice": false, "zero": false, "padding": 0},
"axis": {"orient": "left", "title": null, "labels": false, "ticks": false, "grid": false, "domainColor": "#555555"}},
"y2": {"field": "hi"}
}
},
{
"data": {"name": "years"},
"mark": {"type": "rule", "color": "#555555", "strokeWidth": 1, "strokeDash": [5, 4]},
"encoding": {
"x": {"field": "i", "type": "quantitative", "scale": {"domain": [-19.13, 482.5], "nice": false, "zero": false, "padding": 0}}
}
},
{
"data": {"name": "years"},
"mark": {"type": "text", "angle": 270, "align": "left", "baseline": "bottom", "color": "#5e5e5e", "fontSize": 11, "font": "Liberation Sans, sans-serif"},
"encoding": {
"x": {"field": "i", "type": "quantitative", "scale": {"domain": [-19.13, 482.5], "nice": false, "zero": false, "padding": 0}},
"y": {"field": "v", "type": "quantitative", "scale": {"domain": [281.79, 370.97], "nice": false, "zero": false, "padding": 0}, "axis": null},
"text": {"field": "label"}
}
},
{
"data": {"name": "candles"},
"mark": {"type": "rule", "strokeWidth": 1},
"encoding": {
"x": {"field": "i", "type": "quantitative", "scale": {"domain": [-19.13, 482.5], "nice": false, "zero": false, "padding": 0}},
"y": {"field": "l", "type": "quantitative", "scale": {"domain": [281.79, 370.97], "nice": false, "zero": false, "padding": 0},
"axis": {"orient": "right", "title": null, "values": [285,290,295,300,305,310,315,320,325,330,335,340,345,350,355,360,365,370], "ticks": false, "grid": false, "domainColor": "#666666", "labelColor": "#a0a0a0", "labelFontSize": 11, "labelFont": "Liberation Sans, sans-serif", "labelPadding": 3}},
"y2": {"field": "h"},
"color": {"condition": {"test": "datum.c >= datum.o", "value": "#00c800"}, "value": "#ff0000"}
}
},
{
"data": {"name": "candles"},
"mark": {"type": "bar", "width": 4},
"encoding": {
"x": {"field": "i", "type": "quantitative", "scale": {"domain": [-19.13, 482.5], "nice": false, "zero": false, "padding": 0}},
"y": {"field": "o", "type": "quantitative", "scale": {"domain": [281.79, 370.97], "nice": false, "zero": false, "padding": 0}, "axis": null},
"y2": {"field": "c"},
"color": {"condition": {"test": "datum.c >= datum.o", "value": "#00c800"}, "value": "#ff0000"}
}
},
{
"data": {"name": "ma"},
"transform": [{"filter": "datum.ma === 'slow'"}],
"mark": {"type": "line", "color": "#22dcec", "strokeWidth": 2, "clip": true},
"encoding": {
"x": {"field": "i", "type": "quantitative", "scale": {"domain": [-19.13, 482.5], "nice": false, "zero": false, "padding": 0}},
"y": {"field": "v", "type": "quantitative", "scale": {"domain": [281.79, 370.97], "nice": false, "zero": false, "padding": 0}, "axis": null}
}
},
{
"data": {"name": "ma"},
"transform": [{"filter": "datum.ma === 'fast'"}],
"mark": {"type": "line", "color": "#ffff00", "strokeWidth": 3, "clip": true},
"encoding": {
"x": {"field": "i", "type": "quantitative", "scale": {"domain": [-19.13, 482.5], "nice": false, "zero": false, "padding": 0}},
"y": {"field": "v", "type": "quantitative", "scale": {"domain": [281.79, 370.97], "nice": false, "zero": false, "padding": 0}, "axis": null}
}
},
{
"data": {"name": "trend"},
"mark": {"type": "line", "strokeWidth": 3, "clip": true},
"encoding": {
"x": {"field": "i", "type": "quantitative", "scale": {"domain": [-19.13, 482.5], "nice": false, "zero": false, "padding": 0}},
"y": {"field": "v", "type": "quantitative", "scale": {"domain": [281.79, 370.97], "nice": false, "zero": false, "padding": 0}, "axis": null},
"detail": {"field": "line"},
"color": {"field": "line", "type": "nominal", "legend": null, "scale": {"domain": ["R1","R2","L1","L2","G1","G2"], "range": ["#ff1010","#ff1010","#ff1010","#ff1010","#22ee44","#22ee44"]}}
}
}
]
}
